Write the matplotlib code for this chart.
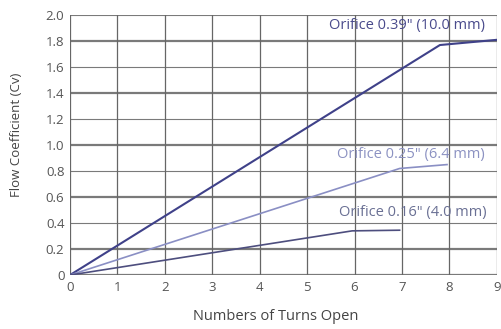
import matplotlib.pyplot as plt

plt.rcParams['font.family'] = ['Open Sans', 'DejaVu Sans']

# turns open vs flow coefficient for each orifice
turns_039 = [0, 7.8, 9.0]
cv_039 = [0, 1.77, 1.81]
turns_025 = [0, 6.95, 7.95]
cv_025 = [0, 0.82, 0.85]
turns_016 = [0, 5.95, 6.95]
cv_016 = [0, 0.34, 0.345]

labels = ['Orifice 0.39" (10.0 mm)', 'Orifice 0.25" (6.4 mm)', 'Orifice 0.16" (4.0 mm)']
label_pos = [(8.75, 1.92), (8.75, 0.93), (8.78, 0.48)]

x_ticks = list(range(10))
y_ticks = [0, 0.2, 0.4, 0.6, 0.8, 1.0, 1.2, 1.4, 1.6, 1.8, 2.0]
y_ticklabels = ['0', '0.2', '0.4', '0.6', '0.8', '1.0', '1.2', '1.4', '1.6', '1.8', '2.0']

fig = plt.figure(figsize=(5.01, 3.29), dpi=100)
ax = fig.add_axes([0.1397, 0.164, 0.852, 0.79])

# grid
for i, y in enumerate(y_ticks):
    lw = 1.6 if i % 2 == 1 or i == 0 else 0.8
    ax.axhline(y, color='#7a7a7a', lw=lw, zorder=1)
for x in x_ticks:
    ax.axvline(x, color='#666666', lw=0.9, zorder=1)

ax.plot(turns_039, cv_039, color='#3f4189', lw=1.5, zorder=3)
ax.plot(turns_025, cv_025, color='#8a8fc4', lw=1.2, zorder=3)
ax.plot(turns_016, cv_016, color='#4d4e7e', lw=1.2, zorder=3)

colors = ['#4a4b8c', '#8c92c2', '#6a7094']
for lab, (tx, ty), c in zip(labels, label_pos, colors):
    ax.text(tx, ty, lab, color=c, fontsize=10.5, ha='right', va='center', zorder=4)

ax.set_xlim(0, 9)
ax.set_ylim(0, 2.0)
ax.set_xticks(x_ticks)
ax.set_yticks(y_ticks)
ax.set_yticklabels(y_ticklabels)
ax.tick_params(length=0, labelsize=9.5, labelcolor='#555555', pad=4)
for s in ax.spines.values():
    s.set_visible(False)

ax.set_xlabel('Numbers of Turns Open', fontsize=10.5, color='#444444')
ax.set_ylabel('Flow Coefficient (Cv)', fontsize=9.5, color='#444444')
ax.xaxis.set_label_coords(0.482, -0.13)
ax.yaxis.set_label_coords(-0.11, 0.54)

fig.savefig('out.png', dpi=100)
